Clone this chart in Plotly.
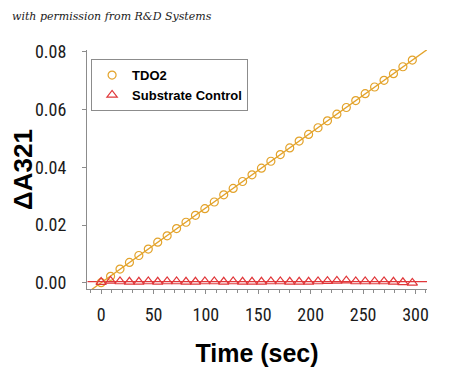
import numpy as np
import plotly.graph_objects as go

# ---- data ----
time_sec = [0, 9, 18, 27, 36, 45, 54, 63, 72, 81, 90, 99, 108, 117, 126, 135, 144,
            153, 162, 171, 180, 189, 198, 207, 216, 225, 234, 243, 252, 261, 270,
            279, 288, 297]
tdo2 = [0.0001, 0.0023, 0.0048, 0.0071, 0.0095, 0.0117, 0.0141, 0.0163, 0.0188,
        0.0210, 0.0234, 0.0257, 0.0280, 0.0305, 0.0327, 0.0351, 0.0374, 0.0397,
        0.0421, 0.0444, 0.0467, 0.0491, 0.0514, 0.0537, 0.0561, 0.0584, 0.0607,
        0.0631, 0.0655, 0.0678, 0.0701, 0.0724, 0.0748, 0.0771]
substrate = [0.0003, 0.0007, 0.0005, 0.0004, 0.0004, 0.0005, 0.0004, 0.0005, 0.0005,
             0.0004, 0.0004, 0.0005, 0.0005, 0.0004, 0.0005, 0.0004, 0.0004, 0.0004,
             0.0005, 0.0005, 0.0004, 0.0004, 0.0004, 0.0005, 0.0006, 0.0007, 0.0008,
             0.0005, 0.0005, 0.0005, 0.0005, 0.0004, 0.0002, 0.0000]
fit_extent = [-13, 311]
x_ticks = [0, 50, 100, 150, 200, 250, 300]
y_ticks = [0.00, 0.02, 0.04, 0.06, 0.08]
y_tick_labels = ["0.00", "0.02", "0.04", "0.06", "0.08"]

ORANGE = "#E3A32B"
RED = "#E0373A"
GRAY = "#8C8C8C"
TICKFONT = dict(family="Liberation Sans Narrow, Roboto Condensed, Arial Narrow, sans-serif",
                size=18, color="#1a1a1a")

fig = go.Figure()

# linear fits through the library (numpy) from the data
for ys, col in [(tdo2, ORANGE), (substrate, RED)]:
    m, b = np.polyfit(time_sec, ys, 1)
    fx = np.array(fit_extent, dtype=float)
    fig.add_trace(go.Scatter(x=fx, y=m * fx + b, mode="lines",
                             line=dict(color=col, width=1.3),
                             showlegend=False, hoverinfo="skip"))

fig.add_trace(go.Scatter(x=time_sec, y=tdo2, mode="markers", name="TDO2",
                         marker=dict(symbol="circle-open", size=8,
                                     line=dict(color=ORANGE, width=1.2), color=ORANGE)))
fig.add_trace(go.Scatter(x=time_sec, y=substrate, mode="markers", name="Substrate Control",
                         marker=dict(symbol="triangle-up-open", size=9,
                                     line=dict(color=RED, width=1.2), color=RED)))

# page body has an 8px margin, so the figure is sized to fit 450x371 exactly
fig.update_layout(
    width=442, height=363,
    margin=dict(l=79, r=23, t=42, b=82, autoexpand=False),
    paper_bgcolor="white", plot_bgcolor="white",
    showlegend=True,
    legend=dict(x=0.012, y=0.962, xanchor="left", yanchor="top",
                bordercolor=GRAY, borderwidth=1, bgcolor="white",
                font=dict(family="Arial, Liberation Sans, sans-serif", size=13,
                          color="black", weight="bold"),
                tracegroupgap=0, itemwidth=30),
    xaxis=dict(range=[-13.5, 311], showgrid=False, zeroline=False, automargin=False,
               showline=True, linecolor=GRAY, linewidth=1,
               ticks="outside", ticklen=4, tickcolor=GRAY,
               tickvals=x_ticks, tickfont=TICKFONT, ticklabelstandoff=5,
               minor=dict(dtick=10, tick0=0, ticks="outside", ticklen=3, tickcolor=GRAY),
               title=dict(text="<b>Time (sec)</b>", standoff=20,
                          font=dict(family="Arial, Liberation Sans, sans-serif",
                                    size=25, color="black"))),
    yaxis=dict(range=[-0.0021, 0.0806], showgrid=False, zeroline=False, automargin=False,
               showline=True, linecolor=GRAY, linewidth=1,
               ticks="outside", ticklen=4, tickcolor=GRAY,
               tickvals=y_ticks, ticktext=y_tick_labels, tickfont=TICKFONT,
               ticklabelstandoff=12,
               title=dict(text="<b>ΔA321</b>", standoff=6,
                          font=dict(family="Arial, Liberation Sans, sans-serif",
                                    size=26, color="black"))),
    annotations=[dict(text="<i>with permission from R&amp;D Systems</i>",
                      xref="paper", yref="paper", x=-0.2265, y=1.142,
                      xanchor="left", yanchor="middle", showarrow=False,
                      font=dict(family="DejaVu Serif, serif", size=11, color="#222"))],
)

fig.write_html("out.html")
